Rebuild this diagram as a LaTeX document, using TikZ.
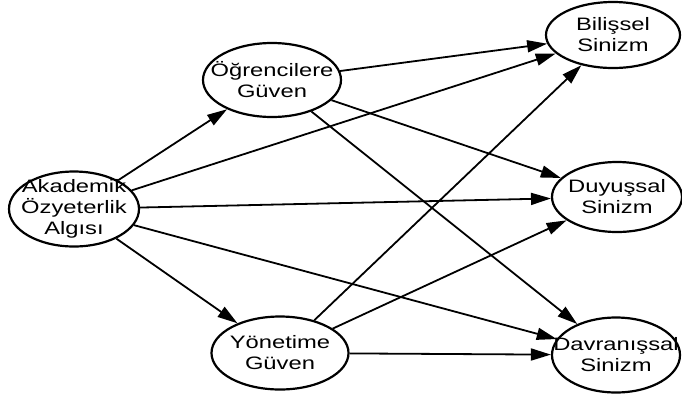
\documentclass[tikz,border=0pt]{standalone}
\usepackage{fontspec}
\newfontfamily\lab[FakeStretch=1.32]{Liberation Sans}
\usetikzlibrary{shapes.geometric,arrows.meta}
\begin{document}
\begin{tikzpicture}[x=1pt,y=-1pt,
  var/.style={draw,ellipse,line width=2.2pt,inner sep=0pt},
  txt/.style={inner sep=0pt,align=center,font=\lab\fontsize{18}{21}\selectfont},
  arr/.style={line width=1.8pt,-{Triangle[length=20pt,width=12pt]}}]
\useasboundingbox (0,0) rectangle (682,397);
\node[var,minimum width=130pt,minimum height=75pt] (ak) at (74,209) {};
\node[var,minimum width=138pt,minimum height=74pt] (og) at (272,80) {};
\node[var,minimum width=137pt,minimum height=73pt] (yo) at (280,353) {};
\node[var,minimum width=134pt,minimum height=66pt] (bi) at (613,35) {};
\node[var,minimum width=130pt,minimum height=70pt] (du) at (617,197) {};
\node[var,minimum width=128pt,minimum height=75pt] (da) at (616,355) {};
\node[txt] (akt) at (ak.center) {Akademik\\Özyeterlik\\Algısı};
\node[txt] (ogt) at (og.center) {Öğrencilere\\Güven};
\node[txt] (yot) at (yo.center) {Yönetime\\Güven};
\node[txt] (bit) at (bi.center) {Bilişsel\\Sinizm};
\node[txt] (dut) at (du.center) {Duyuşsal\\Sinizm};
\node[txt] (dat) at (da.center) {Davranışsal\\Sinizm};
\draw[arr] (ak) -- (og);
\draw[arr] (ak) -- (yo);
\draw[arr] (ak) -- (bi);
\draw[arr] (ak) -- (du);
\draw[arr] (ak) -- (da);
\draw[arr] (og) -- (bi);
\draw[arr] (og) -- (du);
\draw[arr] (og) -- (da);
\draw[arr] (yo) -- (bi);
\draw[arr] (yo) -- (du);
\draw[arr] (yo) -- (da);
\end{tikzpicture}
\end{document}
